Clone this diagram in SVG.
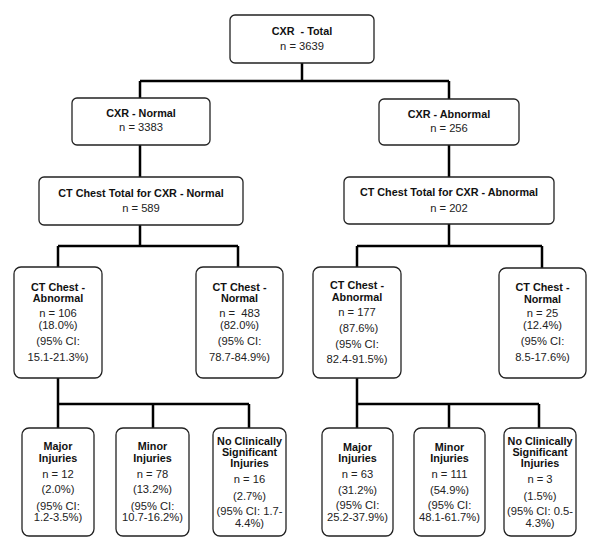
<svg xmlns="http://www.w3.org/2000/svg" width="600" height="551" viewBox="0 0 600 551">
<style>
.box{fill:#fff;stroke:#222;stroke-width:1.3}
.b{font-family:"Liberation Sans",Arial,sans-serif;font-size:10.8px;font-weight:bold;fill:#111;text-anchor:middle;white-space:pre}
.r{font-family:"Liberation Sans",Arial,sans-serif;font-size:11.2px;fill:#222;text-anchor:middle;white-space:pre}
.c{fill:none;stroke:#000;stroke-width:2.5}
</style>
<rect width="600" height="551" fill="#fff"/>
<g id="connectors">
<path class="c" d="M302 63V81M140 81H449M140 81V98M449 81V99"/>
<path class="c" d="M140 145V177M449 145V177"/>
<path class="c" d="M140 225V246M58 246H238M58 246V267M238 246V267"/>
<path class="c" d="M449 224V246M357 246H542M357 246V267M542 246V268"/>
<path class="c" d="M58 378V404H249M58 404V428M153 404V428M249 404V428"/>
<path class="c" d="M357 378V404H539M357 404V428M449 404V428M539 404V428"/>
</g>
<g id="total"><rect class="box" x="230" y="15" width="144" height="48" rx="5"/>
<text class="b" x="302" y="35">CXR  - Total</text><text class="r" x="302" y="50">n = 3639</text></g>
<g id="cxr-normal"><rect class="box" x="72" y="98" width="138" height="47" rx="5"/>
<text class="b" x="141" y="117">CXR - Normal</text><text class="r" x="141" y="131">n = 3383</text></g>
<g id="cxr-abnormal"><rect class="box" x="379" y="99" width="140" height="46" rx="5"/>
<text class="b" x="449" y="118">CXR - Abnormal</text><text class="r" x="449" y="132">n = 256</text></g>
<g id="ct-total-normal"><rect class="box" x="39" y="177" width="204" height="48" rx="5"/>
<text class="b" x="141" y="197">CT Chest Total for CXR - Normal</text><text class="r" x="141" y="212">n = 589</text></g>
<g id="ct-total-abnormal"><rect class="box" x="344" y="177" width="210" height="47" rx="5"/>
<text class="b" x="449" y="196">CT Chest Total for CXR - Abnormal</text><text class="r" x="449" y="212">n = 202</text></g>
<g id="ct-abn-left"><rect class="box" x="14" y="267" width="88" height="111" rx="7"/>
<text class="b" x="58" y="291">CT Chest -</text><text class="b" x="58" y="302">Abnormal</text>
<text class="r" x="58" y="317">n = 106</text><text class="r" x="58" y="329">(18.0%)</text>
<text class="r" x="58" y="345">(95% CI:</text><text class="r" x="58" y="361">15.1-21.3%)</text></g>
<g id="ct-nor-left"><rect class="box" x="196" y="267" width="87" height="111" rx="7"/>
<text class="b" x="239.5" y="291">CT Chest -</text><text class="b" x="239.5" y="302">Normal</text>
<text class="r" x="239.5" y="317">n =  483</text><text class="r" x="239.5" y="329">(82.0%)</text>
<text class="r" x="239.5" y="345">(95% CI:</text><text class="r" x="239.5" y="361">78.7-84.9%)</text></g>
<g id="ct-abn-right"><rect class="box" x="313" y="267" width="88" height="111" rx="7"/>
<text class="b" x="357" y="289">CT Chest -</text><text class="b" x="357" y="301">Abnormal</text>
<text class="r" x="357" y="316">n = 177</text><text class="r" x="357" y="332"> (87.6%)</text>
<text class="r" x="357" y="348">(95% CI:</text><text class="r" x="357" y="363">82.4-91.5%)</text></g>
<g id="ct-nor-right"><rect class="box" x="499" y="268" width="87" height="110" rx="7"/>
<text class="b" x="542.5" y="291">CT Chest -</text><text class="b" x="542.5" y="303">Normal</text>
<text class="r" x="542.5" y="317">n = 25</text><text class="r" x="542.5" y="329">(12.4%)</text>
<text class="r" x="542.5" y="345">(95% CI:</text><text class="r" x="542.5" y="361">8.5-17.6%)</text></g>
<g id="major-left"><rect class="box" x="22" y="428" width="72" height="108" rx="7"/>
<text class="b" x="58" y="450">Major</text><text class="b" x="58" y="462">Injuries</text>
<text class="r" x="58" y="478">n = 12</text><text class="r" x="58" y="493">(2.0%)</text>
<text class="r" x="58" y="510">(95% CI:</text><text class="r" x="58" y="521">1.2-3.5%)</text></g>
<g id="minor-left"><rect class="box" x="116" y="428" width="73" height="108" rx="7"/>
<text class="b" x="152.5" y="450">Minor</text><text class="b" x="152.5" y="462">Injuries</text>
<text class="r" x="152.5" y="478">n = 78</text><text class="r" x="152.5" y="493">(13.2%)</text>
<text class="r" x="152.5" y="510">(95% CI:</text><text class="r" x="152.5" y="521">10.7-16.2%)</text></g>
<g id="ncs-left"><rect class="box" x="213" y="428" width="73" height="108" rx="7"/>
<text class="b" x="249.5" y="445">No Clinically</text><text class="b" x="249.5" y="456">Significant</text><text class="b" x="249.5" y="467">Injuries</text>
<text class="r" x="249.5" y="483">n = 16</text><text class="r" x="249.5" y="500">(2.7%)</text>
<text class="r" x="249.5" y="515">(95% CI: 1.7-</text><text class="r" x="249.5" y="527">4.4%)</text></g>
<g id="major-right"><rect class="box" x="322" y="428" width="71" height="108" rx="7"/>
<text class="b" x="357.5" y="451">Major</text><text class="b" x="357.5" y="462">Injuries</text>
<text class="r" x="357.5" y="478">n = 63</text><text class="r" x="357.5" y="494">(31.2%)</text>
<text class="r" x="357.5" y="509">(95% CI:</text><text class="r" x="357.5" y="521">25.2-37.9%)</text></g>
<g id="minor-right"><rect class="box" x="414" y="428" width="71" height="108" rx="7"/>
<text class="b" x="449.5" y="451">Minor</text><text class="b" x="449.5" y="462">Injuries</text>
<text class="r" x="449.5" y="478">n = 111</text><text class="r" x="449.5" y="494">(54.9%)</text>
<text class="r" x="449.5" y="509">(95% CI:</text><text class="r" x="449.5" y="521">48.1-61.7%)</text></g>
<g id="ncs-right"><rect class="box" x="504" y="428" width="72" height="108" rx="7"/>
<text class="b" x="540" y="445">No Clinically</text><text class="b" x="540" y="456">Significant</text><text class="b" x="540" y="467">Injuries</text>
<text class="r" x="540" y="483">n = 3</text><text class="r" x="540" y="500">(1.5%)</text>
<text class="r" x="540" y="515">(95% CI: 0.5-</text><text class="r" x="540" y="527">4.3%)</text></g>
</svg>
